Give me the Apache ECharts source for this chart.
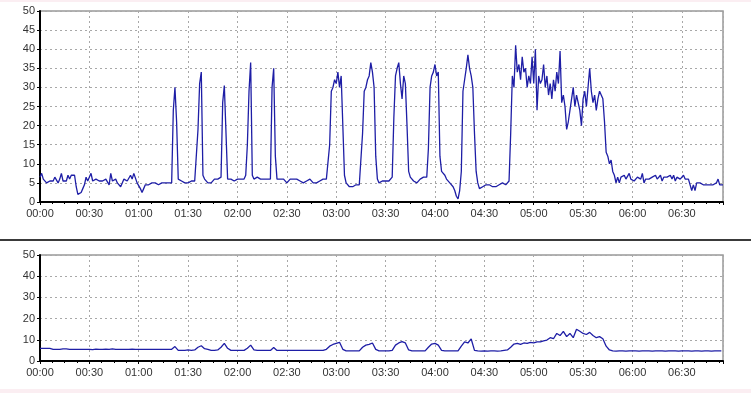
<!DOCTYPE html>
<html><head><meta charset="utf-8">
<script src="https://cdn.jsdelivr.net/npm/echarts@6/dist/echarts.min.js"></script>
<style>html,body{margin:0;padding:0;background:#fff;} #c{width:751px;height:393px;}</style>
</head><body><div id="c"></div>
<script>
// x axis in minutes since 00:00
const tickLabels = ['00:00','00:30','01:00','01:30','02:00','02:30','03:00','03:30','04:00','04:30','05:00','05:30','06:00','06:30'];
const axisEndMinute = 415;

// top panel: one value per minute, starting at 00:00
const topStepMinutes = 1;
const topValues = [
  6.5, 7.5, 6, 5.5, 5, 5.5, 5.5, 6, 5.5, 6.5,
  7, 5, 6, 7.5, 5.5, 6, 5.5, 7, 6, 7,
  7.5, 7, 4, 2, 1.5, 2.5, 3.5, 4.5, 6.5, 5.5,
  6, 7.5, 5.5, 5.5, 6, 6.5, 5.5, 6, 5.5, 5,
  6, 5.5, 4.5, 7.5, 5.5, 5.5, 6, 5, 5, 4,
  5, 6, 6.5, 5.5, 6, 7, 6, 7.5, 7.5, 5,
  4.5, 3.5, 2.5, 3.5, 4.5, 5, 4.5, 5, 5, 4.5,
  5, 5.5, 4.5, 4, 5, 4.5, 5, 5.5, 5, 5,
  5, 24, 30, 21, 6, 6, 5.5, 6, 5, 5.5,
  5, 5.5, 5.5, 5, 5.5, 6, 19, 31, 34, 7,
  6, 5.5, 5, 5.5, 5, 5.5, 6, 5.5, 6, 6,
  6.5, 26, 30.5, 30, 6, 5.5, 6, 6, 5.5, 6,
  6, 5.5, 6, 6.5, 6, 7, 15, 29, 36.5, 7,
  6, 5.5, 6.5, 6, 6, 5.5, 6, 5.5, 6, 5.5,
  6, 30, 35, 12, 6, 5.5, 6, 5.5, 6, 5.5,
  5, 5.5, 6, 5.5, 6, 5.5, 6, 6, 5.5, 6,
  5, 5.5, 5.5, 5.5, 6, 5.5, 5, 5, 5, 5.5,
  5.5, 6, 6, 6.5, 6, 6.5, 15, 29, 30, 32,
  31, 34, 30, 33, 20, 7, 5, 4.5, 4, 3.5,
  4, 4, 4.5, 4, 4.5, 4.5, 18, 29, 30, 32,
  33, 36.5, 34, 30, 12, 6, 5, 5, 5.5, 5,
  5.5, 6, 5.5, 6, 6.5, 22, 33, 35, 36.5, 31,
  27, 33, 31, 20, 8, 6.5, 6, 5.5, 6, 5,
  5.5, 6, 6, 6.5, 6, 6.5, 14, 30, 33, 34,
  36, 33, 34, 12, 8, 7.5, 7, 6, 5.5, 5,
  4.5, 4, 3, 1.5, 0.8, 3, 8, 29, 32, 35,
  38.5, 35, 33, 30, 18, 8, 5, 3.5, 3.5, 4,
  4, 4.5, 4, 4.5, 4.5, 4, 4, 4, 4, 4.5,
  4.5, 5, 4.5, 4.5, 5, 5.5, 18, 33, 30, 41,
  34, 36, 32, 38, 34, 35, 30, 33, 31, 38,
  31, 40, 24, 33, 31, 32, 36, 30, 33, 28,
  31, 27, 32, 29, 34, 31, 39.5, 26, 28, 25,
  19, 21, 24, 27, 30, 25, 28, 26, 24, 20,
  27, 29, 25, 30, 35, 29, 26, 28, 24, 27,
  29, 28, 27, 21, 13, 12, 10, 11, 8, 7,
  5, 6.5, 5, 6.5, 6, 7, 6, 6.5, 7.5, 6,
  6.5, 5.5, 6, 6.5, 7, 6, 7.5, 5, 6, 6.5,
  6, 6, 6.5, 6, 7, 6, 6.5, 7, 5.5, 6.5,
  7, 6.5, 6, 7, 6, 7, 5.5, 6.5, 6, 6,
  6.5, 7, 6, 5.5, 6, 5.5, 3, 4.5, 3, 5,
  4.5, 5, 4.5, 4.5, 4, 4.5, 4.5, 4.5, 5, 4.5,
  4, 5, 6, 4.5, 4, 4.5
];

// bottom panel: one value every 2 minutes, starting at 00:00
const bottomStepMinutes = 2;
const bottomValues = [
  6, 6, 6, 6, 5.5, 5.5, 5.5, 5.7, 5.7, 5.5,
  5.5, 5.5, 5.5, 5.5, 5.5, 5.5, 5.4, 5.6, 5.5, 5.5,
  5.6, 5.5, 5.7, 5.5, 5.5, 5.5, 5.5, 5.5, 5.6, 5.5,
  5.5, 5.5, 5.5, 5.5, 5.5, 5.5, 5.5, 5.5, 5.5, 5.5,
  5.5, 6.8, 5, 5, 5, 5.2, 5, 5.2, 6.5, 7.2,
  5.8, 5.5, 5, 5, 5.2, 6.5, 8.3, 6, 5, 5,
  5, 5, 5, 6, 7.5, 5.2, 5, 5, 5, 5,
  5, 6.4, 5, 5, 5, 5, 5, 5, 5, 5,
  5, 5, 5, 5, 5, 5, 5, 5.5, 7, 7.8,
  8.3, 8.8, 5.5, 4.8, 4.8, 4.8, 4.8, 4.8, 6.5, 7.5,
  7.8, 8.5, 5.5, 4.8, 4.8, 4.8, 4.8, 5, 7.5, 8.5,
  9.1, 8.5, 5.2, 4.8, 4.8, 4.8, 4.8, 4.8, 6.5, 8,
  8.3, 7.5, 5, 4.8, 4.8, 4.8, 4.8, 4.8, 7, 9,
  8.5, 10.4, 5, 4.8, 4.7, 4.8, 4.7, 4.8, 4.8, 4.7,
  4.8, 5, 5.2, 6.5, 8, 8.3, 7.8, 8.5, 8.3, 8.8,
  8.5, 9, 9, 9.5, 9.9, 11, 10.5, 13, 12, 14,
  11.5, 13, 11, 15, 14, 13, 12.5, 13.5, 12, 11,
  11.5, 10.5, 7, 5.2, 4.8, 4.7, 4.8, 4.8, 4.7, 4.8,
  4.8, 4.8, 4.7, 4.8, 4.8, 4.8, 4.7, 4.8, 4.8, 4.8,
  4.7, 4.8, 4.8, 4.8, 4.7, 4.8, 4.8, 4.8, 4.7, 4.8,
  4.8, 4.7, 4.8, 4.8, 4.7, 4.8, 4.8, 4.8
];

const FONT = 'Liberation Sans, Arial, sans-serif';
const LINE_COLOR = '#1e1ea6';

function toPairs(values, step) { return values.map((v, i) => [i * step, v]); }

function xAxis(gi) {
  return {
    type: 'value', gridIndex: gi, min: 0, max: axisEndMinute, interval: 30,
    axisLine: { show: true, onZero: false, lineStyle: { color: '#000', width: 2 } },
    axisTick: { show: true, length: 3, lineStyle: { color: '#000' } },
    minorTick: { show: true, splitNumber: 4, length: 2, lineStyle: { color: '#000' } },
    axisLabel: {
      color: '#333', fontSize: 11, fontFamily: FONT, margin: 6, showMaxLabel: false,
      formatter: v => (v % 30 === 0 && tickLabels[v / 30]) ? tickLabels[v / 30] : ''
    },
    splitLine: { show: true, lineStyle: { color: '#a8a8a8', width: 1, type: [2, 3] } }
  };
}
function yAxis(gi, interval) {
  return {
    type: 'value', gridIndex: gi, min: 0, max: 50, interval: interval,
    axisLine: { show: true, lineStyle: { color: '#000', width: 2 } },
    axisTick: { show: true, length: 3, lineStyle: { color: '#000' } },
    axisLabel: { color: '#333', fontSize: 11, fontFamily: FONT, margin: 5 },
    splitLine: { show: true, lineStyle: { color: '#a8a8a8', width: 1, type: [2, 3] } }
  };
}

const chart = echarts.init(document.getElementById('c'), null, { renderer: 'canvas' });
chart.setOption({
  animation: false,
  backgroundColor: '#fff',
  grid: [
    { left: 40, top: 11, width: 683, height: 191, show: true, borderColor: '#999', borderWidth: 1.5, backgroundColor: '#fff' },
    { left: 40, top: 255, width: 683, height: 106, show: true, borderColor: '#999', borderWidth: 1.5, backgroundColor: '#fff' }
  ],
  xAxis: [xAxis(0), xAxis(1)],
  yAxis: [yAxis(0, 5), yAxis(1, 10)],
  graphic: [
    { type: 'rect', shape: { x: 0, y: 0, width: 751, height: 2 }, style: { fill: '#fbeef2' }, silent: true },
    { type: 'rect', shape: { x: 0, y: 389, width: 751, height: 4 }, style: { fill: '#fbeef2' }, silent: true },
    { type: 'line', shape: { x1: 0, y1: 240, x2: 751, y2: 240 }, style: { stroke: '#3a3a3a', lineWidth: 2 }, silent: true }
  ],
  series: [
    { type: 'line', xAxisIndex: 0, yAxisIndex: 0, data: toPairs(topValues, topStepMinutes),
      showSymbol: false, symbol: 'none', lineStyle: { color: LINE_COLOR, width: 1.3 } },
    { type: 'line', xAxisIndex: 1, yAxisIndex: 1, data: toPairs(bottomValues, bottomStepMinutes),
      showSymbol: false, symbol: 'none', lineStyle: { color: LINE_COLOR, width: 1.3 } }
  ]
});
</script>
</body></html>
